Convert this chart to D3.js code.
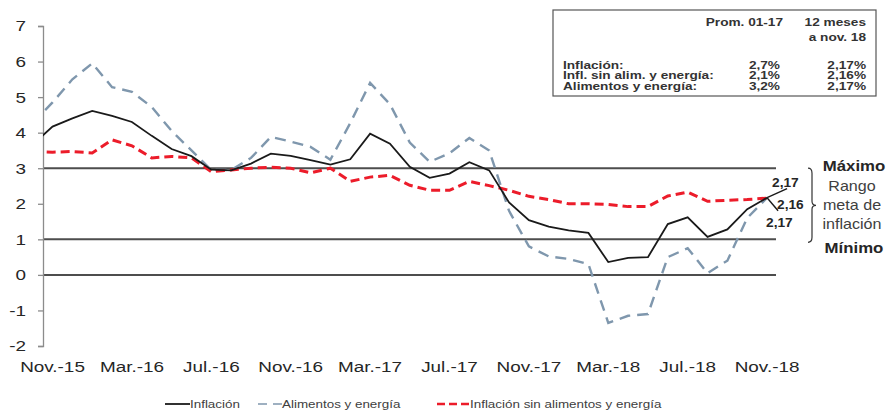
<!DOCTYPE html>
<html>
<head>
<meta charset="utf-8">
<script src="https://cdn.jsdelivr.net/npm/d3@7"></script>
<style>
  body { margin: 0; background: #fff; }
  svg { display: block; font-family: "Liberation Sans", Arial, sans-serif; }
</style>
</head>
<body>
<svg id="chart" width="888" height="412"></svg>
<script>
// Monthly series, Oct.-15 to Nov.-18 (12-month % change)
const months = ["Oct.-15","Nov.-15","Dic.-15","Ene.-16","Feb.-16","Mar.-16","Abr.-16","May.-16","Jun.-16","Jul.-16","Ago.-16","Set.-16",
  "Oct.-16","Nov.-16","Dic.-16","Ene.-17","Feb.-17","Mar.-17","Abr.-17","May.-17","Jun.-17","Jul.-17","Ago.-17","Set.-17",
  "Oct.-17","Nov.-17","Dic.-17","Ene.-18","Feb.-18","Mar.-18","Abr.-18","May.-18","Jun.-18","Jul.-18","Ago.-18","Set.-18","Oct.-18","Nov.-18"];

const inflacion = [3.66,4.17,4.40,4.61,4.47,4.30,3.91,3.54,3.34,2.96,2.94,3.13,
  3.41,3.35,3.23,3.10,3.25,3.97,3.69,3.04,2.73,2.85,3.17,2.94,
  2.04,1.54,1.36,1.25,1.18,0.36,0.48,0.50,1.43,1.62,1.07,1.28,1.85,2.17];

const alimentosEnergia = [4.27,4.85,5.50,5.95,5.28,5.15,4.72,4.05,3.50,2.95,2.95,3.29,
  3.88,3.75,3.60,3.24,4.27,5.40,4.80,3.72,3.18,3.42,3.85,3.50,
  1.80,0.80,0.52,0.45,0.30,-1.35,-1.15,-1.10,0.50,0.75,0.05,0.40,1.60,2.17];

const sinAlimentosEnergia = [3.47,3.45,3.47,3.43,3.80,3.63,3.29,3.33,3.29,2.90,2.95,3.00,
  3.03,3.00,2.87,3.00,2.63,2.75,2.80,2.52,2.38,2.38,2.63,2.51,
  2.38,2.21,2.12,2.00,2.00,1.98,1.92,1.92,2.22,2.33,2.07,2.10,2.12,2.16];

const tickLabels = ["Nov.-15","Mar.-16","Jul.-16","Nov.-16","Mar.-17","Jul.-17","Nov.-17","Mar.-18","Jul.-18","Nov.-18"];
const yTicks = [-2,-1,0,1,2,3,4,5,6,7];
const refLines = [0, 1, 3];

const tableHeader = ["Prom. 01-17", "12 meses", "a nov. 18"];
const tableRows = ["Inflación:", "Infl. sin alim. y energía:", "Alimentos y energía:"];
const tablePromedio = ["2,7%", "2,1%", "3,2%"];
const tableUltimo = ["2,17%", "2,16%", "2,17%"];
const endLabels = ["2,17", "2,16", "2,17"];

const svg = d3.select("#chart");
const plotLeft = 43, plotRight = 776, plotTop = 26, plotBottom = 346;
const K = 1.22; // horizontal text stretch

// month index: Nov.-15 = 0
const x = d3.scaleLinear().domain([-0.48, 36.45]).range([plotLeft, plotRight]);
const y = d3.scaleLinear().domain([-2, 7]).range([plotBottom, plotTop]);
const idx = i => i - 1;

// place a text at (px, py) with horizontal stretch k
function place(sel, px, py, k = K) {
  return sel.attr("x", 0).attr("y", 0)
    .attr("transform", (d, i) => {
      const X = typeof px === "function" ? px(d, i) : px;
      const Y = typeof py === "function" ? py(d, i) : py;
      return `translate(${X},${Y}) scale(${k},1)`;
    });
}

svg.append("defs").append("clipPath").attr("id", "plot")
  .append("rect").attr("x", plotLeft).attr("y", 0).attr("width", plotRight - plotLeft).attr("height", 412);

// Reference lines (0, target band 1 and 3)
svg.append("g").selectAll("line").data(refLines).join("line")
  .attr("x1", plotLeft).attr("x2", plotRight)
  .attr("y1", d => y(d)).attr("y2", d => y(d))
  .attr("stroke", "#4d4d4d").attr("stroke-width", 2);

// Y axis
const yAxis = svg.append("g").attr("transform", `translate(${plotLeft},0)`)
  .call(d3.axisLeft(y).tickValues(yTicks).tickSize(5).tickPadding(17).tickFormat(d => String(d)));
yAxis.select(".domain").attr("stroke", "#8c8c8c").attr("stroke-width", 1.3);
yAxis.selectAll(".tick line").attr("stroke", "#8c8c8c").attr("stroke-width", 1.3);
yAxis.selectAll(".tick text").attr("fill", "#262626").attr("font-size", 15.5)
  .attr("font-family", '"Liberation Sans", Arial, sans-serif')
  .attr("x", -17 / K).attr("transform", `scale(${K},1)`);

// X labels
place(svg.append("g").selectAll("text").data(tickLabels).join("text"),
    d => x(idx(months.indexOf(d))), 372)
  .attr("text-anchor", "middle")
  .attr("font-size", 15.5).attr("fill", "#262626")
  .text(d => d);

// Series
const line = arr => d3.line()
  .x((d, i) => x(idx(i)))
  .y(d => y(d))(arr);

const g = svg.append("g").attr("clip-path", "url(#plot)");
g.append("path").attr("d", line(alimentosEnergia))
  .attr("fill", "none").attr("stroke", "#7f97ad").attr("stroke-width", 2.4)
  .attr("stroke-dasharray", "11,7");
g.append("path").attr("d", line(sinAlimentosEnergia))
  .attr("fill", "none").attr("stroke", "#ec1c2a").attr("stroke-width", 3)
  .attr("stroke-dasharray", "9,5");
g.append("path").attr("d", line(inflacion))
  .attr("fill", "none").attr("stroke", "#1a1a1a").attr("stroke-width", 1.8);

// End value labels with leaders
const xe = x(idx(months.length - 1)), ye = y(inflacion[inflacion.length - 1]);
svg.append("line").attr("x1", xe).attr("y1", ye).attr("x2", xe + 20).attr("y2", ye - 9)
  .attr("stroke", "#1a1a1a").attr("stroke-width", 1.4);
svg.append("line").attr("x1", xe).attr("y1", ye).attr("x2", xe + 11).attr("y2", ye + 13)
  .attr("stroke", "#1a1a1a").attr("stroke-width", 1.4);
const endPos = [[772, 187], [777, 209], [766, 227]];
place(svg.append("g").selectAll("text").data(endLabels).join("text"),
    (d, i) => endPos[i][0], (d, i) => endPos[i][1], 1.1)
  .attr("font-size", 12.5).attr("font-weight", "bold").attr("fill", "#262626")
  .text(d => d);

// Target range annotation
const bx = 808, bTop = y(3), bBot = y(1) + 3, bMid = (bTop + bBot) / 2;
svg.append("path")
  .attr("d", `M${bx},${bTop} Q${bx + 4},${bTop} ${bx + 4},${bTop + 5} L${bx + 4},${bMid - 4} Q${bx + 4},${bMid} ${bx + 8},${bMid}
              Q${bx + 4},${bMid} ${bx + 4},${bMid + 4} L${bx + 4},${bBot - 5} Q${bx + 4},${bBot} ${bx},${bBot}`)
  .attr("fill", "none").attr("stroke", "#333").attr("stroke-width", 1.2);
place(svg.append("text"), 854, 171, 1.2).attr("text-anchor", "middle")
  .attr("font-size", 14).attr("font-weight", "bold").attr("fill", "#262626").text("Máximo");
place(svg.append("text"), 854, 253, 1.2).attr("text-anchor", "middle")
  .attr("font-size", 14).attr("font-weight", "bold").attr("fill", "#262626").text("Mínimo");
place(svg.append("g").selectAll("text").data(["Rango", "meta de", "inflación"]).join("text"),
    852, (d, i) => 191 + i * 19, 1.15)
  .attr("text-anchor", "middle")
  .attr("font-size", 14).attr("fill", "#404040").text(d => d);

// Summary table
const tb = svg.append("g");
tb.append("rect").attr("x", 553).attr("y", 10).attr("width", 323).attr("height", 86)
  .attr("fill", "#fff").attr("stroke", "#555").attr("stroke-width", 1.2);
const TK = 1.3;
const tstyle = s => s.attr("font-size", 10.5).attr("font-weight", "bold").attr("fill", "#333");
tstyle(place(tb.append("text"), 783, 26, TK).attr("text-anchor", "end").text(tableHeader[0]));
tstyle(place(tb.append("text"), 866, 26, TK).attr("text-anchor", "end").text(tableHeader[1]));
tstyle(place(tb.append("text"), 866, 41, TK).attr("text-anchor", "end").text(tableHeader[2]));
tableRows.forEach((r, i) => {
  const yy = 68.5 + i * 10.5;
  tstyle(place(tb.append("text"), 563, yy, TK).text(r));
  tstyle(place(tb.append("text"), 780, yy, TK).attr("text-anchor", "end").text(tablePromedio[i]));
  tstyle(place(tb.append("text"), 866, yy, TK).attr("text-anchor", "end").text(tableUltimo[i]));
});

// Legend
const legend = [
  { name: "Inflación", color: "#1a1a1a", dash: null, w: 1.8, x: 165, tx: 190 },
  { name: "Alimentos y energía", color: "#7f97ad", dash: "9,6", w: 1.6, x: 258, tx: 282 },
  { name: "Inflación sin alimentos y energía", color: "#ec1c2a", dash: "8,4", w: 2.6, x: 437, tx: 470 }
];
const lg = svg.append("g").selectAll("g").data(legend).join("g");
lg.append("line").attr("x1", d => d.x).attr("x2", d => d.tx).attr("y1", 404).attr("y2", 404)
  .attr("stroke", d => d.color).attr("stroke-width", d => d.w)
  .attr("stroke-dasharray", d => d.dash);
place(lg.append("text"), d => d.tx, 408, 1.22)
  .attr("font-size", 11).attr("fill", "#404040").text(d => d.name);
</script>
</body>
</html>
